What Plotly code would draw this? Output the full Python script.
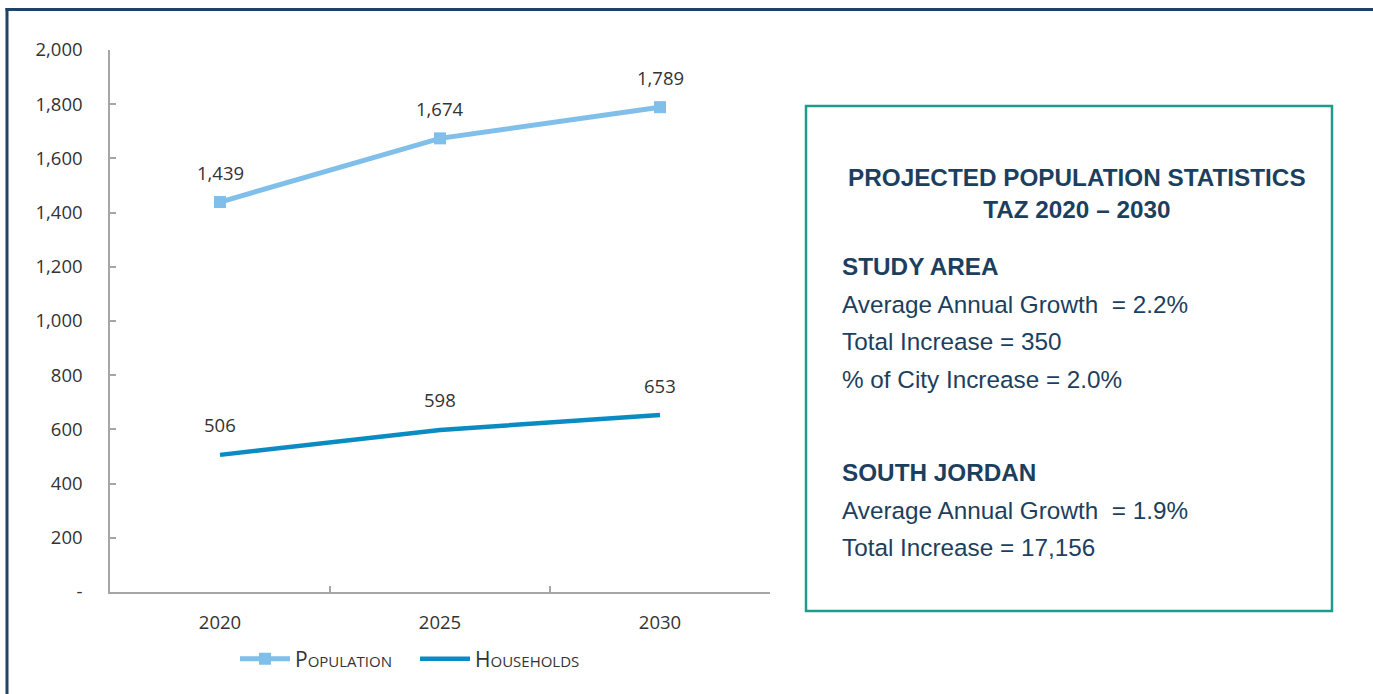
import plotly.graph_objects as go

years = ["2020", "2025", "2030"]
population = [1439, 1674, 1789]
households = [506, 598, 653]
y_ticks = [0, 200, 400, 600, 800, 1000, 1200, 1400, 1600, 1800, 2000]
y_tick_text = ["-", "200", "400", "600", "800", "1,000", "1,200", "1,400", "1,600", "1,800", "2,000"]

box_title = ["PROJECTED POPULATION STATISTICS", "TAZ 2020 \u2013 2030"]
box_lines = [
    ("STUDY AREA", True),
    ("Average Annual Growth\u00a0 = 2.2%", False),
    ("Total Increase = 350", False),
    ("% of City Increase = 2.0%", False),
    ("SOUTH JORDAN", True),
    ("Average Annual Growth\u00a0 = 1.9%", False),
    ("Total Increase = 17,156", False),
]
box_line_y = [266, 304, 341, 379, 472, 510, 547]

W, H = 1373, 694
def px(x):
    return x / W
def py(y):
    return 1 - y / H

NAVY = "#1d3f5e"
TEAL = "#1f9a8c"
POP_C = "#7fbfe9"
HH_C = "#0a8cc2"
AX_C = "#a6a6a6"
TXT = "#333333"
FONT = "Open Sans"

fig = go.Figure()
fig.add_trace(go.Scatter(
    x=years, y=population, name="Population", mode="lines+markers",
    line=dict(color=POP_C, width=5),
    marker=dict(symbol="square", size=12, color=POP_C),
))
fig.add_trace(go.Scatter(
    x=years, y=households, name="Households", mode="lines",
    line=dict(color=HH_C, width=4.5),
))

annotations = []
for series in (population, households):
    for i, v in enumerate(series):
        annotations.append(dict(
            x=i, y=v, xref="x", yref="y", text=f"{v:,}", showarrow=False,
            yshift=30, font=dict(family=FONT, size=18.5, color=TXT),
        ))

# text box
annotations.append(dict(
    x=px(1077), y=py(193), xref="paper", yref="paper",
    text="<b>" + "<br>".join(box_title) + "</b>", showarrow=False,
    align="center", xanchor="center", yanchor="middle",
    font=dict(family="Liberation Sans", size=24.3, color=NAVY),
))
for (t, bold), yy in zip(box_lines, box_line_y):
    annotations.append(dict(
        x=px(840), y=py(yy), xref="paper", yref="paper",
        text=f"<b>{t}</b>" if bold else t, showarrow=False,
        xanchor="left", yanchor="middle", align="left",
        font=dict(family="Liberation Sans", size=24.3, color=NAVY),
    ))

shapes = [
    dict(type="rect", xref="paper", yref="paper",
         x0=px(806), x1=px(1332), y0=py(611), y1=py(106),
         line=dict(color=TEAL, width=2.5)),
    dict(type="line", xref="paper", yref="paper",
         x0=px(5.5), x1=1, y0=py(9.5), y1=py(9.5),
         line=dict(color="#1b4468", width=3)),
    dict(type="line", xref="paper", yref="paper",
         x0=px(7), x1=px(7), y0=0, y1=py(8),
         line=dict(color="#1b4468", width=3)),
]

fig.update_layout(
    width=W, height=H,
    margin=dict(l=0, r=0, t=0, b=0, autoexpand=False),
    paper_bgcolor="white", plot_bgcolor="white",
    showlegend=True,
    legend=dict(
        orientation="h", x=px(235), y=py(659), xanchor="left", yanchor="middle",
        font=dict(family=FONT, size=21, color=TXT, variant="small-caps"),
        itemwidth=50, entrywidth=115, entrywidthmode="pixels",
    ),
    annotations=annotations,
    shapes=shapes,
    xaxis=dict(
        domain=[px(110), px(770)], range=[-0.5, 2.5], type="category",
        showline=True, linecolor=AX_C, linewidth=1.5, showgrid=False,
        ticks="inside", tickson="boundaries", ticklen=6, tickcolor=AX_C, tickwidth=1.5,
        tickfont=dict(family=FONT, size=18.5, color=TXT),
        ticklabelstandoff=13, zeroline=False, automargin=False,
    ),
    yaxis=dict(
        domain=[py(592), py(50)], range=[0, 2000],
        showline=True, linecolor=AX_C, linewidth=1.5, showgrid=False,
        ticks="inside", ticklen=6, tickcolor=AX_C, tickwidth=1.5,
        tickvals=y_ticks, ticktext=y_tick_text,
        tickfont=dict(family=FONT, size=18.5, color=TXT),
        ticklabelstandoff=22, zeroline=False, automargin=False,
    ),
)

fig.write_html(
    "out.html",
    config={"displayModeBar": False},
    post_script="document.body.style.margin='0';document.body.style.overflow='hidden';",
)
